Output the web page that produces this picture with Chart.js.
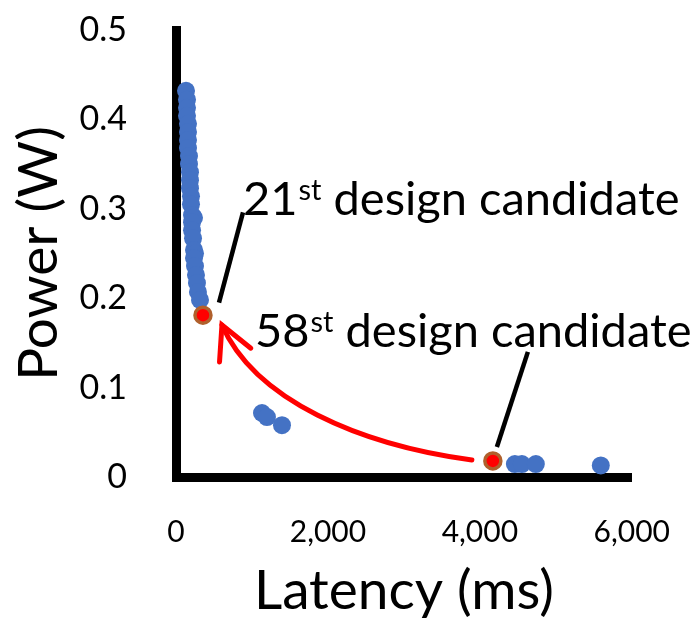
<!DOCTYPE html>
<html>
<head>
<meta charset="utf-8">
<script src="https://cdn.jsdelivr.net/npm/chart.js@4.4.0/dist/chart.umd.min.js"></script>
<style>
    html, body { margin: 0; padding: 0; background: #fff; }
</style>
</head>
<body>
<canvas id="myChart" width="699" height="624"></canvas>
<script>
// explored design candidates
const latencyMs = [132, 145, 145, 145, 158, 158, 158, 158, 171, 171, 184, 184, 184, 197, 197,
    211, 237, 211, 211, 224, 237, 250, 237, 250, 263, 276, 289, 316,
    1132, 1197, 1395, 4461, 4553, 4737, 5592];
const powerW = [0.432, 0.422, 0.413, 0.404, 0.395, 0.386, 0.377, 0.368, 0.359, 0.350, 0.341, 0.332, 0.323, 0.314, 0.305,
    0.293, 0.290, 0.285, 0.276, 0.267, 0.254, 0.250, 0.245, 0.236, 0.226, 0.217, 0.207, 0.198,
    0.0716, 0.067, 0.058, 0.0145, 0.0145, 0.0145, 0.013];

// highlighted candidates
const chosenLatencyMs = [355, 4171];
const chosenPowerW = [0.181, 0.018];
const chosenNames = ['21', '58'];

const xTicks = [0, 2000, 4000, 6000];
const yTicks = [0, 0.1, 0.2, 0.3, 0.4, 0.5];

// callouts, in data units
const notes = [
    { name: chosenNames[0], line: [566, 0.195, 882, 0.296], text: [882, 0.293] },
    { name: chosenNames[1], line: [4224, 0.0336, 4632, 0.140], text: [1040, 0.145] }
];
const arrowPath = [[3895, 0.019], [2421, 0.0358], [1039, 0.0861], [605, 0.170]];

const calloutPlugin = {
    id: 'callouts',
    afterDatasetsDraw(chart) {
        const { ctx, scales: { x, y } } = chart;
        const px = v => x.getPixelForValue(v);
        const py = v => y.getPixelForValue(v);
        ctx.save();

        ctx.strokeStyle = '#000';
        ctx.lineWidth = 4.5;
        notes.forEach(n => {
            ctx.beginPath();
            ctx.moveTo(px(n.line[0]), py(n.line[1]));
            ctx.lineTo(px(n.line[2]), py(n.line[3]));
            ctx.stroke();
        });

        // curved red arrow
        const p = arrowPath.map(a => [px(a[0]), py(a[1])]);
        ctx.strokeStyle = '#ff0000';
        ctx.lineWidth = 5;
        ctx.lineCap = 'round';
        ctx.beginPath();
        ctx.moveTo(p[0][0], p[0][1]);
        ctx.bezierCurveTo(p[1][0], p[1][1], p[2][0], p[2][1], p[3][0], p[3][1]);
        ctx.stroke();
        const back = Math.atan2(p[2][1] - p[3][1], p[2][0] - p[3][0]);
        const armLen = 37;
        ctx.beginPath();
        ctx.moveTo(p[3][0] + armLen * Math.cos(back - 0.48), p[3][1] + armLen * Math.sin(back - 0.48));
        ctx.lineTo(p[3][0], p[3][1]);
        ctx.lineTo(p[3][0] + armLen * Math.cos(back + 0.48), p[3][1] + armLen * Math.sin(back + 0.48));
        ctx.stroke();

        // labels with superscript
        const size = 47;
        ctx.fillStyle = '#000';
        ctx.textBaseline = 'alphabetic';
        ctx.textAlign = 'left';
        notes.forEach(n => {
            let tx = px(n.text[0]);
            const ty = py(n.text[1]);
            ctx.font = `${size}px Lato`;
            ctx.fillText(n.name, tx, ty);
            tx += ctx.measureText(n.name).width + 1;
            ctx.font = `${Math.round(size * 0.62)}px Lato`;
            ctx.fillText('st', tx, ty - size * 0.33);
            tx += ctx.measureText('st').width;
            ctx.font = `${size}px Lato`;
            ctx.fillText(' design candidate', tx, ty);
        });
        ctx.restore();
    }
};

function drawChart() {
    const ctx = document.getElementById('myChart').getContext('2d');
    Chart.defaults.font.family = 'Lato';
    Chart.defaults.color = '#000';

    new Chart(ctx, {
        type: 'scatter',
        data: {
            datasets: [{
                label: 'chosen',
                data: chosenLatencyMs.map((v, i) => ({ x: v, y: chosenPowerW[i] })),
                backgroundColor: '#ff0000',
                borderColor: '#b0602c',
                borderWidth: 3.5,
                pointRadius: 8,
                order: 0
            }, {
                label: 'candidates',
                data: latencyMs.map((v, i) => ({ x: v, y: powerW[i] })),
                backgroundColor: '#4472c4',
                borderWidth: 0,
                pointRadius: 9,
                order: 1
            }]
        },
        options: {
            responsive: false,
            animation: false,
            devicePixelRatio: 1,
            layout: { padding: { top: 30, right: 67, bottom: 0, left: 0 } },
            plugins: { legend: { display: false }, tooltip: { enabled: false } },
            scales: {
                x: {
                    type: 'linear',
                    min: 0,
                    max: 6000,
                    afterBuildTicks: scale => { scale.ticks = xTicks.map(v => ({ value: v })); },
                    afterFit: scale => { scale.height = 147; },
                    grid: { display: false },
                    border: { display: true, color: '#000', width: 9 },
                    ticks: {
                        padding: 29,
                        font: { size: 30 },
                        callback: v => v.toLocaleString('en-US')
                    },
                    title: {
                        display: true,
                        text: 'Latency (ms)',
                        font: { size: 55 },
                        padding: { top: 0, bottom: 0 }
                    }
                },
                y: {
                    type: 'linear',
                    min: 0,
                    max: 0.5,
                    afterBuildTicks: scale => { scale.ticks = yTicks.map(v => ({ value: v })); },
                    afterFit: scale => {
                        scale.width = 176;
                        scale.paddingTop = 0;
                        scale.paddingBottom = 0;
                    },
                    grid: { display: false },
                    border: { display: true, color: '#000', width: 9 },
                    ticks: {
                        padding: 41,
                        font: { size: 34 },
                        callback: v => v === 0 ? '0' : v.toFixed(1)
                    },
                    title: {
                        display: true,
                        text: 'Power (W)',
                        font: { size: 55 },
                        padding: { top: 6, bottom: 0 }
                    }
                }
            }
        },
        plugins: [calloutPlugin]
    });
}

document.fonts.load('47px Lato').then(drawChart, drawChart);
</script>
</body>
</html>
